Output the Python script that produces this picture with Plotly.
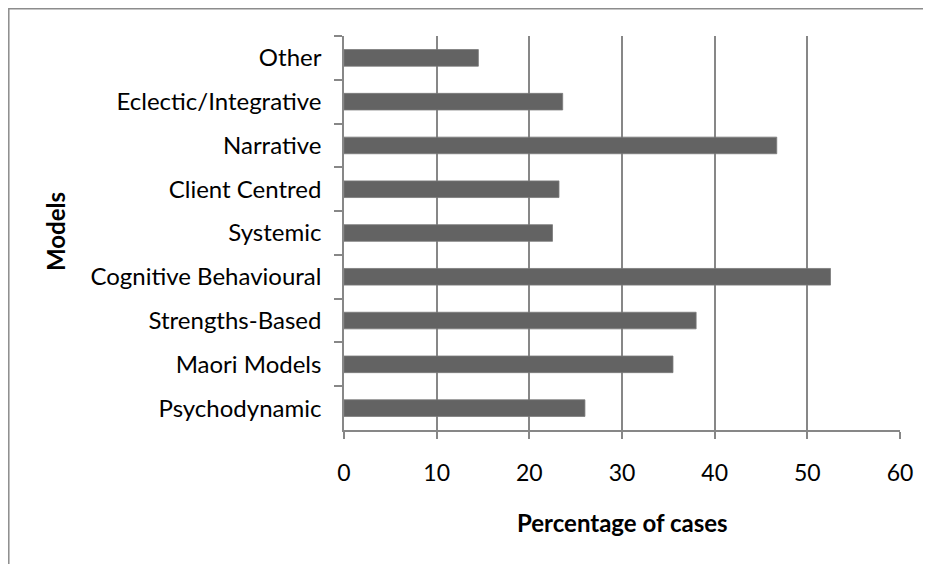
import plotly.graph_objects as go

categories = ["Other", "Eclectic/Integrative", "Narrative", "Client Centred", "Systemic",
              "Cognitive Behavioural", "Strengths-Based", "Maori Models", "Psychodynamic"]
values = [14.5, 23.6, 46.7, 23.2, 22.5, 52.5, 38.0, 35.5, 26.0]
x_ticks = [0, 10, 20, 30, 40, 50, 60]

FONT = "Lato"
GRID = "#878787"

# page has an 8px body margin; figure sized to fit the 931x564 window
OFF = 8
W, H = 931 - OFF, 564 - OFF
L, R, T, B = 336, 31, 28, 134
pw, ph = W - L - R, H - T - B


def px_x(p):
    return (p - OFF - L) / pw


def px_y(p):
    return (H - B - (p - OFF)) / ph


fig = go.Figure(go.Bar(
    x=values, y=categories, orientation="h",
    marker=dict(color="#636363", line=dict(color="#7a7a7a", width=0.8)),
    width=0.38,
))

fig.update_layout(
    width=W, height=H,
    margin=dict(l=L, r=R, t=T, b=B),
    paper_bgcolor="white", plot_bgcolor="white",
    font=dict(family=FONT, size=24, color="#000000"),
    showlegend=False,
    xaxis=dict(
        range=[0, 60], tickvals=x_ticks, ticktext=[str(v) for v in x_ticks],
        showgrid=True, gridcolor=GRID, gridwidth=1.5,
        showline=True, linecolor=GRID, linewidth=1.5,
        ticks="outside", ticklen=7, tickcolor=GRID, tickwidth=1.5,
        ticklabelstandoff=15,
        zeroline=False, fixedrange=True,
        tickfont=dict(family=FONT, size=23, color="#000"),
    ),
    yaxis=dict(
        categoryorder="array", categoryarray=categories, autorange="reversed",
        showgrid=False,
        showline=True, linecolor=GRID, linewidth=1.5,
        ticks="outside", ticklen=8, tickcolor=GRID, tickwidth=1.5,
        tickson="boundaries",
        ticklabelstandoff=16,
        tickfont=dict(family=FONT, size=24, color="#000"),
        fixedrange=True,
    ),
    shapes=[dict(
        type="rect", xref="paper", yref="paper",
        x0=px_x(8.8), x1=px_x(1000), y0=px_y(700), y1=px_y(8.8),
        line=dict(color="#8c8c8c", width=1.5), fillcolor="rgba(0,0,0,0)",
        layer="below",
    )],
    annotations=[
        dict(text="<b>Percentage of cases</b>", xref="paper", yref="paper",
             x=0.5, y=px_y(522), xanchor="center", yanchor="middle",
             showarrow=False, font=dict(family=FONT, size=24, color="#000")),
        dict(text="<b>Models</b>", xref="paper", yref="paper",
             x=px_x(55), y=px_y(232), xanchor="center", yanchor="middle", textangle=-90,
             showarrow=False, font=dict(family=FONT, size=24, color="#000")),
    ],
)

fig.write_html("out.html")
